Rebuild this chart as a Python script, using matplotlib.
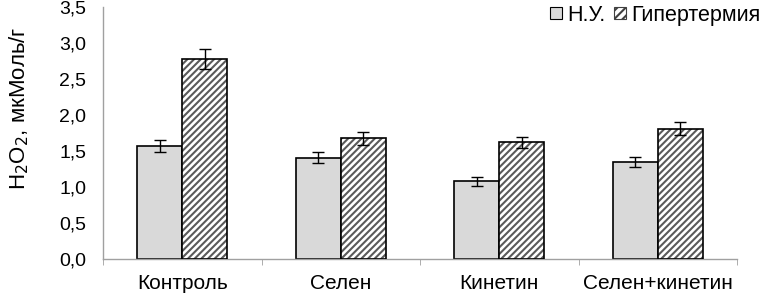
import matplotlib.pyplot as plt
import numpy as np

plt.rcParams['font.family'] = ['Liberation Sans', 'DejaVu Sans']
plt.rcParams['hatch.linewidth'] = 1.5

groups = ["Контроль", "Селен", "Кинетин", "Селен+кинетин"]
nu = [1.57, 1.41, 1.08, 1.35]
nu_err = [0.08, 0.07, 0.06, 0.07]
hyper = [2.78, 1.68, 1.62, 1.81]
hyper_err = [0.14, 0.09, 0.08, 0.09]
yticks = [0.0, 0.5, 1.0, 1.5, 2.0, 2.5, 3.0, 3.5]

fig = plt.figure(figsize=(7.63, 2.95), dpi=100)
ax = fig.add_axes([0.135, 0.122, 0.831, 0.854])

x = np.arange(len(groups))
w = 0.284

ax.bar(x - w / 2, nu, w, color="#d9d9d9", edgecolor="black", linewidth=1.2,
       label="Н.У.", zorder=2)
# hatched bars: gray stripes first, black outline on top
ax.bar(x + w / 2, hyper, w, color="white", edgecolor="#5a5a5a", hatch="/////",
       linewidth=0, zorder=2)
ax.bar(x + w / 2, hyper, w, color="none", edgecolor="black", linewidth=1.2, zorder=3)
ax.errorbar(x - w / 2, nu, yerr=nu_err, fmt="none", ecolor="black",
            elinewidth=1, capsize=4, capthick=1, zorder=4)
ax.errorbar(x + w / 2, hyper, yerr=hyper_err, fmt="none", ecolor="black",
            elinewidth=1, capsize=4, capthick=1, zorder=4)

# legend proxies
h1 = plt.Rectangle((0, 0), 1, 1, facecolor="#d9d9d9", edgecolor="black", linewidth=0.8)
h2 = plt.Rectangle((0, 0), 1, 1, facecolor="white", edgecolor="#404040", hatch="////", linewidth=0.8)
fig.legend([h1, h2], ["Н.У.", "Гипертермия"], loc="upper right",
           bbox_to_anchor=(1.022, 1.05), ncol=2, frameon=False, fontsize=15.5,
           handlelength=0.55, handleheight=0.55, handletextpad=0.25, columnspacing=0.4)

ax.set_xlim(-0.5, len(groups) - 0.5)
ax.set_ylim(0, 3.5)
ax.set_yticks(yticks)
ax.set_yticklabels([f"{v:.1f}".replace(".", ",") for v in yticks], fontsize=14)
ax.set_xticks(x)
ax.set_xticklabels(groups, fontsize=15)
ax.set_xticks(np.arange(len(groups) + 1) - 0.5, minor=True)
ax.tick_params(axis="x", which="major", length=0, pad=11)
ax.tick_params(axis="x", which="minor", length=4, color="#a0a0a0", direction="out")
ax.tick_params(axis="y", length=0, pad=12)
ax.set_ylabel("H$_2$O$_2$, мкМоль/г", fontsize=16)
ax.yaxis.set_label_coords(-0.113, 0.6)

for s in ["top", "right"]:
    ax.spines[s].set_visible(False)
for s in ["left", "bottom"]:
    ax.spines[s].set_color("#a0a0a0")
    ax.spines[s].set_linewidth(1)

fig.savefig("out.png", dpi=100)
